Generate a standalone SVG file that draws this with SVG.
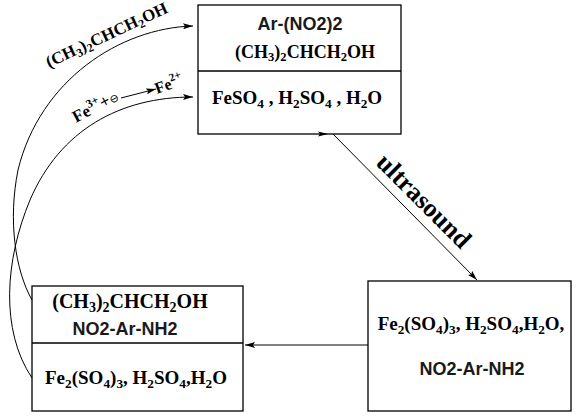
<svg xmlns="http://www.w3.org/2000/svg" width="579" height="418" viewBox="0 0 579 418">
<defs>
<marker id="ah" viewBox="0 0 10 6" refX="10" refY="3" markerWidth="11" markerHeight="6" markerUnits="userSpaceOnUse" orient="auto">
<path d="M0,0 L10,3 L0,6 L2,3 Z" fill="#000"/>
</marker>
<style>
.box{fill:#fff;stroke:#000;stroke-width:1.3}
.div{stroke:#000;stroke-width:1.3}
.conn{fill:none;stroke:#000;stroke-width:1}
.tb{font-family:"Liberation Serif","Times New Roman",serif;font-weight:bold;fill:#000}
.ar{font-family:"Liberation Sans",Arial,sans-serif;font-weight:bold;fill:#1a1a1a}
.s{font-size:70%}
</style>
</defs>
<rect width="579" height="418" fill="#fff"/>

<g id="top-box">
<rect class="box" x="198" y="5" width="203" height="129"/>
<line class="div" x1="198" y1="71" x2="401" y2="71"/>
<text class="ar" x="300" y="30" font-size="18" text-anchor="middle">Ar-(NO2)2</text>
<text class="tb" x="305" y="58" font-size="18" text-anchor="middle">(CH<tspan class="s" dy="3">3</tspan><tspan dy="-3">)</tspan><tspan class="s" dy="3">2</tspan><tspan dy="-3">CHCH</tspan><tspan class="s" dy="3">2</tspan><tspan dy="-3">OH</tspan></text>
<text class="tb" x="297" y="104" font-size="19" text-anchor="middle">FeSO<tspan class="s" dy="4">4</tspan><tspan dy="-4"> , H</tspan><tspan class="s" dy="4">2</tspan><tspan dy="-4">SO</tspan><tspan class="s" dy="4">4</tspan><tspan dy="-4"> , H</tspan><tspan class="s" dy="4">2</tspan><tspan dy="-4">O</tspan></text>
</g>

<g id="right-box">
<rect class="box" x="368" y="281" width="203" height="130"/>
<text class="tb" x="471" y="330" font-size="19" text-anchor="middle">Fe<tspan class="s" dy="4">2</tspan><tspan dy="-4">(SO</tspan><tspan class="s" dy="4">4</tspan><tspan dy="-4">)</tspan><tspan class="s" dy="4">3</tspan><tspan dy="-4">, H</tspan><tspan class="s" dy="4">2</tspan><tspan dy="-4">SO</tspan><tspan class="s" dy="4">4</tspan><tspan dy="-4">,H</tspan><tspan class="s" dy="4">2</tspan><tspan dy="-4">O,</tspan></text>
<text class="ar" x="472" y="375" font-size="18" text-anchor="middle">NO2-Ar-NH2</text>
</g>

<g id="left-box">
<rect class="box" x="32" y="286" width="211" height="125"/>
<line class="div" x1="32" y1="343" x2="243" y2="343"/>
<text class="tb" x="130" y="308" font-size="20" text-anchor="middle">(CH<tspan class="s" dy="4">3</tspan><tspan dy="-4">)</tspan><tspan class="s" dy="4">2</tspan><tspan dy="-4">CHCH</tspan><tspan class="s" dy="4">2</tspan><tspan dy="-4">OH</tspan></text>
<text class="ar" x="125" y="335" font-size="18" text-anchor="middle">NO2-Ar-NH2</text>
<text class="tb" x="136" y="384" font-size="19" text-anchor="middle">Fe<tspan class="s" dy="4">2</tspan><tspan dy="-4">(SO</tspan><tspan class="s" dy="4">4</tspan><tspan dy="-4">)</tspan><tspan class="s" dy="4">3</tspan><tspan dy="-4">, H</tspan><tspan class="s" dy="4">2</tspan><tspan dy="-4">SO</tspan><tspan class="s" dy="4">4</tspan><tspan dy="-4">,H</tspan><tspan class="s" dy="4">2</tspan><tspan dy="-4">O</tspan></text>
</g>

<g id="connectors">
<path class="conn" d="M32,300 C15,270 8,220 18,170 C40,80 120,28 193,26" marker-end="url(#ah)"/>
<path class="conn" d="M32,378 C0,330 5,260 30,200 C60,130 120,97 193,97" marker-end="url(#ah)"/>
<line class="conn" x1="333" y1="134" x2="477" y2="280" marker-end="url(#ah)"/>
<line class="conn" x1="368" y1="345" x2="245" y2="345" marker-end="url(#ah)"/>
<line class="conn" x1="121" y1="98" x2="156" y2="89" marker-end="url(#ah)"/>
<path d="M318,131.5 L328,134 L318,136.5 L320,134 Z" fill="#000"/>
<text class="tb" transform="translate(424,201) rotate(45)" font-size="26" text-anchor="middle" dominant-baseline="central">ultrasound</text>
<text class="tb" transform="translate(109,40) rotate(-25)" font-size="17" text-anchor="middle">(CH<tspan class="s" dy="3">3</tspan><tspan dy="-3">)</tspan><tspan class="s" dy="3">2</tspan><tspan dy="-3">CHCH</tspan><tspan class="s" dy="3">2</tspan><tspan dy="-3">OH</tspan></text>
<text class="tb" transform="translate(76,123) rotate(-28)" font-size="17">Fe<tspan class="s" dy="-7">3+</tspan><tspan dy="7">+</tspan><tspan font-family="DejaVu Sans" font-weight="normal" font-size="11">⊖</tspan></text>
<text class="tb" transform="translate(157,94) rotate(-20)" font-size="16">Fe<tspan class="s" dy="-7">2+</tspan></text>
</g>
</svg>
